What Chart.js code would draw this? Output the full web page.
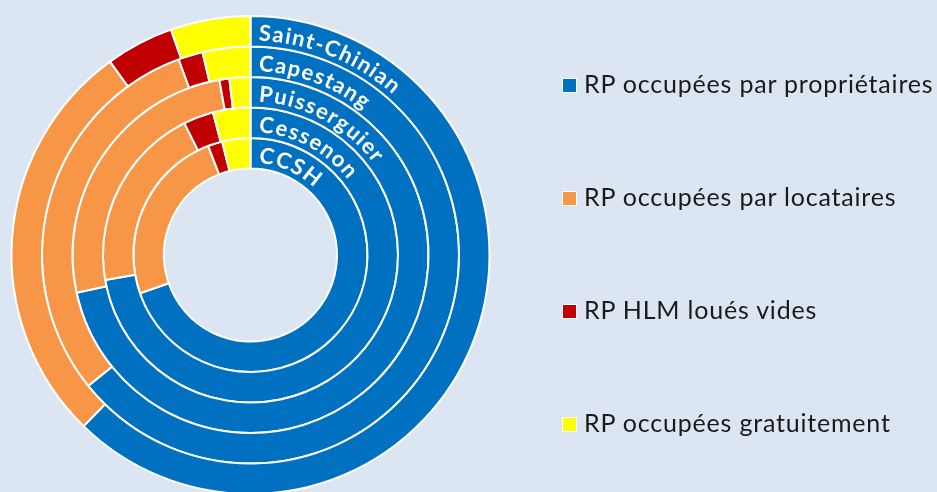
<!DOCTYPE html>
<html lang="fr">
<head>
<meta charset="utf-8">
<title>Résidences principales par statut d'occupation</title>
<script src="https://cdn.jsdelivr.net/npm/chart.js@4"></script>
<style>
  html, body { margin: 0; padding: 0; background: #dce6f2; overflow: hidden; }
  #wrap { position: absolute; left: 0; top: 0; width: 937px; height: 500px; }
  #legend { position: absolute; left: 562px; top: 26px; margin: 0; padding: 0; list-style: none; }
  #legend li { height: 113px; display: flex; align-items: center; font: 25px 'Lato', sans-serif; letter-spacing: 0.8px; color: #1a1a1a; white-space: nowrap; }
  #legend .box { display: inline-block; width: 13px; height: 13px; border: 1px solid #fff; margin: 6px 7px 0 0; }
</style>
</head>
<body>
<div id="wrap"><canvas id="rpChart"></canvas></div>
<ul id="legend"></ul>
<script>
// anneaux, de l'extérieur vers l'intérieur
const rings = ['Saint-Chinian', 'Capestang', 'Puisserguier', 'Cessenon', 'CCSH'];
const categories = ['RP occupées par propriétaires', 'RP occupées par locataires', 'RP HLM loués vides', 'RP occupées gratuitement'];

// parts en %
const owners  = [62.3, 64.2, 71.6, 72.3, 69.7];
const tenants = [27.7, 30.2, 25.6, 20.3, 24.4];
const hlm     = [4.6, 1.9, 0.9, 3.3, 2.0];
const free    = [5.4, 3.7, 1.9, 4.1, 3.9];

const colors = ['#0070c0', '#f79646', '#c00000', '#ffff00'];

// texte courbé le long de chaque anneau
const ringLabels = {
  id: 'ringLabels',
  afterDatasetsDraw(chart) {
    const ctx = chart.ctx;
    ctx.save();
    ctx.fillStyle = '#ffffff';
    ctx.font = "bold 22px 'Lato', sans-serif";
    ctx.textAlign = 'center';
    ctx.textBaseline = 'alphabetic';
    chart.data.datasets.forEach((ds, i) => {
      const arc = chart.getDatasetMeta(i).data[0];
      const r = arc.innerRadius + 6;
      let len = 8;
      for (const ch of ds.label) {
        const w = ctx.measureText(ch).width;
        const a = -Math.PI / 2 + (len + w / 2) / r;
        ctx.save();
        ctx.translate(arc.x + r * Math.cos(a), arc.y + r * Math.sin(a));
        ctx.rotate(a + Math.PI / 2);
        ctx.fillText(ch, 0, 0);
        ctx.restore();
        len += w + 1.3;
      }
    });
    ctx.restore();
  }
};

// légende HTML
const htmlLegend = {
  id: 'htmlLegend',
  afterUpdate(chart) {
    const ul = document.getElementById('legend');
    ul.innerHTML = '';
    const items = chart.options.plugins.legend.labels.generateLabels(chart);
    items.forEach(item => {
      const li = document.createElement('li');
      const box = document.createElement('span');
      box.className = 'box';
      box.style.background = item.fillStyle;
      li.appendChild(box);
      li.appendChild(document.createTextNode(item.text));
      ul.appendChild(li);
    });
  }
};

new Chart(document.getElementById('rpChart'), {
  type: 'doughnut',
  data: {
    labels: categories,
    datasets: rings.map((name, i) => ({
      label: name,
      data: [owners[i], tenants[i], hlm[i], free[i]],
      backgroundColor: colors,
      borderColor: '#ffffff',
      borderWidth: 2
    }))
  },
  options: {
    responsive: true,
    maintainAspectRatio: false,
    animation: false,
    events: [],
    cutout: '36.2%',
    layout: { padding: { left: 10, top: 15, right: 446, bottom: 5 } },
    plugins: {
      legend: { display: false },
      tooltip: { enabled: false }
    }
  },
  plugins: [ringLabels, htmlLegend]
});
</script>
</body>
</html>
